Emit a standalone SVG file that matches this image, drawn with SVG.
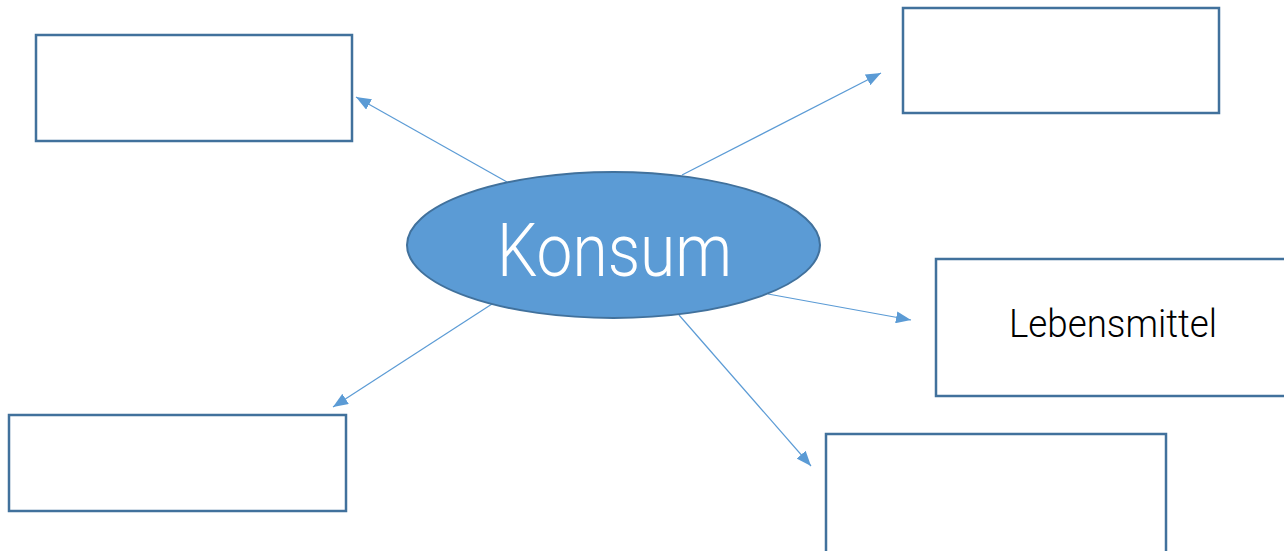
<svg xmlns="http://www.w3.org/2000/svg" width="1284" height="551" viewBox="0 0 1284 551">
<style>
.box{fill:#fff;stroke:#41719c;stroke-width:2.5}
.conn{stroke:#5b9bd5;stroke-width:1.2;fill:none;marker-end:url(#ah)}
.t{font-family:Roboto,"Noto Sans",sans-serif;font-weight:300}
</style>
<defs>
<marker id="ah" viewBox="0 0 15 12" refX="15" refY="6" markerWidth="15" markerHeight="12" markerUnits="userSpaceOnUse" orient="auto">
<path d="M0,0 L15,6 L0,12 Z" fill="#5b9bd5"/>
</marker>
</defs>
<rect width="1284" height="551" fill="#fff"/>
<g id="connectors">
<line class="conn" x1="507" y1="182" x2="356" y2="97"/>
<line class="conn" x1="682" y1="175" x2="881" y2="73"/>
<line class="conn" x1="768" y1="294" x2="911" y2="320"/>
<line class="conn" x1="492" y1="304" x2="333" y2="407"/>
<line class="conn" x1="679" y1="315" x2="811" y2="466"/>
</g>
<g id="center">
<ellipse cx="613.5" cy="245" rx="206.5" ry="73" fill="#5b9bd5" stroke="#41719c" stroke-width="2"/>
<text class="t" x="497" y="276" font-size="75" fill="#fff" textLength="235" lengthAdjust="spacingAndGlyphs">Konsum</text>
</g>
<g id="box-top-left"><rect class="box" x="36" y="35" width="316" height="106"/></g>
<g id="box-top-right"><rect class="box" x="903" y="8" width="316" height="105"/></g>
<g id="box-lebensmittel"><rect class="box" x="936" y="259" width="352" height="137"/>
<text class="t" x="1009" y="337" font-size="38" fill="#000" textLength="208" lengthAdjust="spacingAndGlyphs">Lebensmittel</text></g>
<g id="box-bottom-left"><rect class="box" x="9" y="415" width="337" height="96"/></g>
<g id="box-bottom-right"><rect class="box" x="826" y="434" width="340" height="122"/></g>
</svg>
